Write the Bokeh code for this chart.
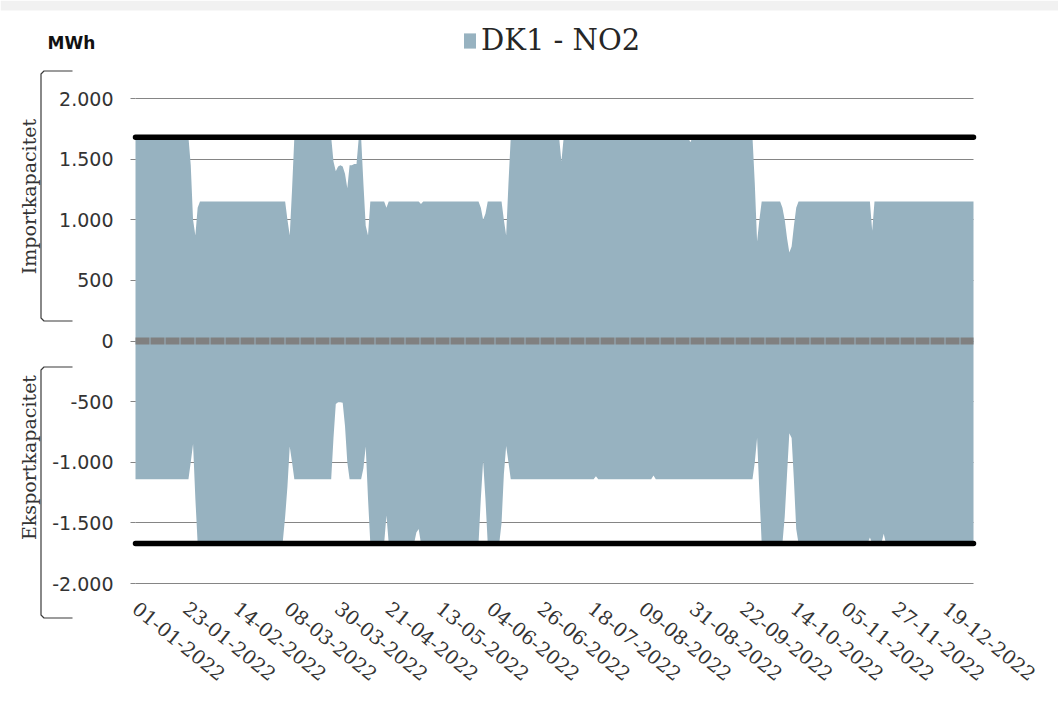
import math
import pandas as pd
from bokeh.plotting import figure
from bokeh.models import (ColumnDataSource, FixedTicker, Legend, LegendItem, Label,
                          BoxAnnotation, Range1d)
from bokeh.embed import file_html
from bokeh.resources import INLINE

# ---------------- data ----------------
dates = pd.date_range("2022-01-01", "2022-12-31", freq="D")

# Importkapacitet (positive, MWh), one value per day
import_cap = [
    1680, 1680, 1680, 1680, 1680, 1680, 1680, 1680, 1680, 1680, 1680, 1680, 1680, 1680, 1680, 1680, 1680, 1680, 1680, 1680,
    1680, 1680, 1680, 1680, 1450, 1000, 870, 1100, 1150, 1150, 1150, 1150, 1150, 1150, 1150, 1150, 1150, 1150, 1150, 1150,
    1150, 1150, 1150, 1150, 1150, 1150, 1150, 1150, 1150, 1150, 1150, 1150, 1150, 1150, 1150, 1150, 1150, 1150, 1150, 1150,
    1150, 1150, 1150, 1150, 1150, 1150, 1000, 870, 1250, 1680, 1680, 1680, 1680, 1680, 1680, 1680, 1680, 1680, 1680, 1680,
    1680, 1680, 1680, 1680, 1680, 1680, 1480, 1400, 1440, 1450, 1440, 1380, 1260, 1450, 1450, 1460, 1460, 1680, 1680, 1300,
    950, 870, 1150, 1150, 1150, 1150, 1150, 1150, 1150, 1100, 1150, 1150, 1150, 1150, 1150, 1150, 1150, 1150, 1150, 1150,
    1150, 1150, 1150, 1150, 1130, 1150, 1150, 1150, 1150, 1150, 1150, 1150, 1150, 1150, 1150, 1150, 1150, 1150, 1150, 1150,
    1150, 1150, 1150, 1150, 1150, 1150, 1150, 1150, 1150, 1150, 1100, 1000, 1050, 1150, 1150, 1150, 1150, 1150, 1150, 1150,
    1000, 870, 1300, 1680, 1680, 1680, 1680, 1680, 1680, 1680, 1680, 1680, 1680, 1680, 1680, 1680, 1680, 1680, 1680, 1680,
    1680, 1680, 1680, 1680, 1680, 1480, 1680, 1680, 1680, 1680, 1680, 1680, 1680, 1680, 1680, 1680, 1680, 1680, 1680, 1680,
    1680, 1680, 1680, 1680, 1680, 1680, 1680, 1680, 1680, 1680, 1680, 1680, 1680, 1680, 1680, 1680, 1680, 1680, 1680, 1680,
    1680, 1680, 1680, 1680, 1680, 1680, 1680, 1680, 1680, 1680, 1680, 1680, 1680, 1680, 1680, 1680, 1680, 1680, 1680, 1680,
    1680, 1640, 1680, 1680, 1680, 1680, 1680, 1680, 1680, 1680, 1680, 1680, 1680, 1680, 1680, 1680, 1680, 1680, 1680, 1680,
    1680, 1680, 1680, 1680, 1680, 1680, 1680, 1680, 1680, 1300, 820, 1000, 1150, 1150, 1150, 1150, 1150, 1150, 1150, 1150,
    1150, 1100, 1000, 850, 730, 780, 950, 1100, 1150, 1150, 1150, 1150, 1150, 1150, 1150, 1150, 1150, 1150, 1150, 1150,
    1150, 1150, 1150, 1150, 1150, 1150, 1150, 1150, 1150, 1150, 1150, 1150, 1150, 1150, 1150, 1150, 1150, 1150, 1150, 1150,
    910, 1150, 1150, 1150, 1150, 1150, 1150, 1150, 1150, 1150, 1150, 1150, 1150, 1150, 1150, 1150, 1150, 1150, 1150, 1150,
    1150, 1150, 1150, 1150, 1150, 1150, 1150, 1150, 1150, 1150, 1150, 1150, 1150, 1150, 1150, 1150, 1150, 1150, 1150, 1150,
    1150, 1150, 1150, 1150, 1150,
]

# Eksportkapacitet (negative, MWh), one value per day
export_cap = [
    -1140, -1140, -1140, -1140, -1140, -1140, -1140, -1140, -1140, -1140, -1140, -1140, -1140, -1140, -1140, -1140, -1140, -1140, -1140, -1140,
    -1140, -1140, -1140, -1140, -1000, -850, -1300, -1670, -1670, -1670, -1670, -1670, -1670, -1670, -1670, -1670, -1670, -1670, -1670, -1670,
    -1670, -1670, -1670, -1670, -1670, -1670, -1670, -1670, -1670, -1670, -1670, -1670, -1670, -1670, -1670, -1670, -1670, -1670, -1670, -1670,
    -1670, -1670, -1670, -1670, -1650, -1450, -1200, -870, -1000, -1140, -1140, -1140, -1140, -1140, -1140, -1140, -1140, -1140, -1140, -1140,
    -1140, -1140, -1140, -1140, -1140, -1140, -800, -520, -505, -505, -510, -700, -1000, -1140, -1140, -1140, -1140, -1140, -1140, -1050,
    -870, -1300, -1670, -1670, -1670, -1670, -1670, -1670, -1670, -1440, -1670, -1670, -1670, -1670, -1670, -1670, -1670, -1670, -1670, -1670,
    -1670, -1670, -1580, -1550, -1670, -1670, -1670, -1670, -1670, -1670, -1670, -1670, -1670, -1670, -1670, -1670, -1670, -1670, -1670, -1670,
    -1670, -1670, -1670, -1670, -1670, -1670, -1670, -1670, -1670, -1670, -1300, -990, -1300, -1670, -1670, -1670, -1670, -1670, -1670, -1500,
    -1100, -865, -1000, -1140, -1140, -1140, -1140, -1140, -1140, -1140, -1140, -1140, -1140, -1140, -1140, -1140, -1140, -1140, -1140, -1140,
    -1140, -1140, -1140, -1140, -1140, -1140, -1140, -1140, -1140, -1140, -1140, -1140, -1140, -1140, -1140, -1140, -1140, -1140, -1140, -1140,
    -1115, -1140, -1140, -1140, -1140, -1140, -1140, -1140, -1140, -1140, -1140, -1140, -1140, -1140, -1140, -1140, -1140, -1140, -1140, -1140,
    -1140, -1140, -1140, -1140, -1140, -1110, -1140, -1140, -1140, -1140, -1140, -1140, -1140, -1140, -1140, -1140, -1140, -1140, -1140, -1140,
    -1140, -1140, -1140, -1140, -1140, -1140, -1140, -1140, -1140, -1140, -1140, -1140, -1140, -1140, -1140, -1140, -1140, -1140, -1140, -1140,
    -1140, -1140, -1140, -1140, -1140, -1140, -1140, -1140, -1140, -1000, -800, -1250, -1670, -1670, -1670, -1670, -1670, -1670, -1670, -1670,
    -1670, -1670, -1450, -1100, -760, -800, -1150, -1550, -1670, -1670, -1670, -1670, -1670, -1670, -1670, -1670, -1670, -1670, -1670, -1670,
    -1670, -1670, -1670, -1670, -1670, -1670, -1670, -1670, -1670, -1670, -1670, -1670, -1670, -1670, -1670, -1670, -1670, -1670, -1670, -1620,
    -1670, -1670, -1670, -1670, -1670, -1590, -1670, -1670, -1670, -1670, -1670, -1670, -1670, -1670, -1670, -1670, -1670, -1670, -1670, -1670,
    -1670, -1670, -1670, -1670, -1670, -1670, -1670, -1670, -1670, -1670, -1670, -1670, -1670, -1670, -1670, -1670, -1670, -1670, -1670, -1670,
    -1670, -1670, -1670, -1670, -1670,
]

max_import = 1680    # thick black line (upper)
max_export = -1670   # thick black line (lower)

x_tick_labels = ["01-01-2022", "23-01-2022", "14-02-2022", "08-03-2022", "30-03-2022",
                 "21-04-2022", "13-05-2022", "04-06-2022", "26-06-2022", "18-07-2022",
                 "09-08-2022", "31-08-2022", "22-09-2022", "14-10-2022", "05-11-2022",
                 "27-11-2022", "19-12-2022"]
y_ticks = [-2000, -1500, -1000, -500, 0, 500, 1000, 1500, 2000]
y_tick_labels = ["-2.000", "-1.500", "-1.000", "-500", "0", "500", "1.000", "1.500", "2.000"]

series_name = "DK1 - NO2"
unit_label = "MWh"
import_title = "Importkapacitet"
export_title = "Eksportkapacitet"

# ---------------- build ----------------
date_str = [d.strftime("%d-%m-%Y") for d in dates]
day = list(range(len(dates)))
x_ticks = [date_str.index(lbl) for lbl in x_tick_labels]

src = ColumnDataSource(dict(day=day, date=date_str, imp=import_cap, exp=export_cap,
                            maxi=[max_import] * len(day), maxe=[max_export] * len(day),
                            zero=[0] * len(day)))

# canvas / plot-area geometry (pixels)
W, H = 1058, 700
AL, AR, AT, AB = 135, 973, 98, 583          # plot area: left, right, top(2000), bottom(-2000)
kx = (AR - AL) / (day[-1] - day[0])
ky = (AB - AT) / (y_ticks[-1] - y_ticks[0])

def dx(px):
    return day[0] + (px - AL) / kx

def dy(py):
    return y_ticks[-1] - (py - AT) / ky

p = figure(width=W, height=H, output_backend="svg", toolbar_location=None, title=None,
           x_range=Range1d(dx(0), dx(W)), y_range=Range1d(dy(H), dy(0)), min_border=0)
p.min_border_left = p.min_border_right = p.min_border_top = p.min_border_bottom = 0
p.outline_line_color = None
p.background_fill_color = "white"
p.border_fill_color = "white"

# light strip at the very top
p.add_layout(BoxAnnotation(bottom=dy(10), fill_color="#f1f1f1", fill_alpha=1,
                           line_color=None, level="underlay"))

# grid
p.xgrid.visible = False
g = p.ygrid[0]
g.ticker = FixedTicker(ticks=y_ticks)
g.grid_line_color = "#858585"
g.grid_line_width = 1.2
if "cross_bounds" in g.properties():
    g.cross_bounds = (day[0], day[-1])
else:
    g.visible = False
    p.segment(x0=day[0], x1=day[-1], y0=y_ticks, y1=y_ticks, line_color="#858585",
              line_width=1.2, level="underlay")

# y axis (fixed at the first day)
ya = p.yaxis[0]
ya.fixed_location = day[0]
ya.bounds = (y_ticks[0], y_ticks[-1])
ya.ticker = FixedTicker(ticks=y_ticks)
ya.major_label_overrides = {t: l for t, l in zip(y_ticks, y_tick_labels)}
ya.axis_line_color = None
ya.major_tick_out = 5
ya.major_tick_in = 0
ya.major_tick_line_color = "#858585"
ya.minor_tick_line_color = None
ya.major_label_standoff = 17
ya.major_label_text_font = "DejaVu Sans"
ya.major_label_text_font_size = "19px"
ya.major_label_text_color = "#333333"

# x axis (fixed at the bottom value)
xa = p.xaxis[0]
xa.fixed_location = y_ticks[0]
xa.bounds = (day[0], day[-1])
xa.ticker = FixedTicker(ticks=x_ticks)
xa.major_label_overrides = {t: l for t, l in zip(x_ticks, x_tick_labels)}
xa.axis_line_color = None
xa.major_tick_line_color = None
xa.minor_tick_line_color = None
xa.major_tick_out = 0
xa.major_tick_in = 0
xa.major_label_standoff = 22
xa.major_label_orientation = -0.68
xa.major_label_text_font = "DejaVu Serif"
xa.major_label_text_font_size = "19.5px"
xa.major_label_text_color = "#333333"

# area
r = p.varea(x="day", y1="exp", y2="imp", source=src, fill_color="#97b2c0")

# zero line (thick dashed gray)
p.line("day", "zero", source=src, line_color="#808080", line_width=7, line_dash="14 1")

# capacity lines
p.line("day", "maxi", source=src, line_color="black", line_width=5.5, line_cap="round")
p.line("day", "maxe", source=src, line_color="black", line_width=5.5, line_cap="round")

# legend (top centre)
legend = Legend(items=[LegendItem(label=series_name, renderers=[r])],
                location=(462, H - 57), orientation="horizontal",
                border_line_color=None, background_fill_alpha=0,
                label_text_font="DejaVu Serif", label_text_font_size="29px",
                label_text_color="#262626", glyph_width=15, glyph_height=19,
                padding=0, margin=0, label_standoff=4)
p.add_layout(legend)

# unit label
p.add_layout(Label(x=dx(47), y=dy(42), text=unit_label,
                   text_font="DejaVu Sans", text_font_style="bold", text_font_size="17px",
                   text_color="#111111", text_baseline="middle", text_align="left"))

# side titles
p.add_layout(Label(x=dx(28), y=dy(196), text=import_title, angle=math.pi / 2,
                   text_font="DejaVu Serif", text_font_size="19px", text_color="#333333",
                   text_baseline="middle", text_align="center"))
p.add_layout(Label(x=dx(28), y=dy(457), text=export_title, angle=math.pi / 2,
                   text_font="DejaVu Serif", text_font_size="19px", text_color="#333333",
                   text_baseline="middle", text_align="center"))

# brackets
def bracket(top, bottom, left=40.5, right=72):
    xs = [dx(right), dx(left + 3), dx(left), dx(left), dx(left + 3), dx(right)]
    ys = [dy(top), dy(top), dy(top + 3), dy(bottom - 3), dy(bottom), dy(bottom)]
    p.line(xs, ys, line_color="#3a3a3a", line_width=1.2)

bracket(70.5, 320.5)
bracket(366.5, 617.5)

open("out.html", "w").write(file_html(p, INLINE))
